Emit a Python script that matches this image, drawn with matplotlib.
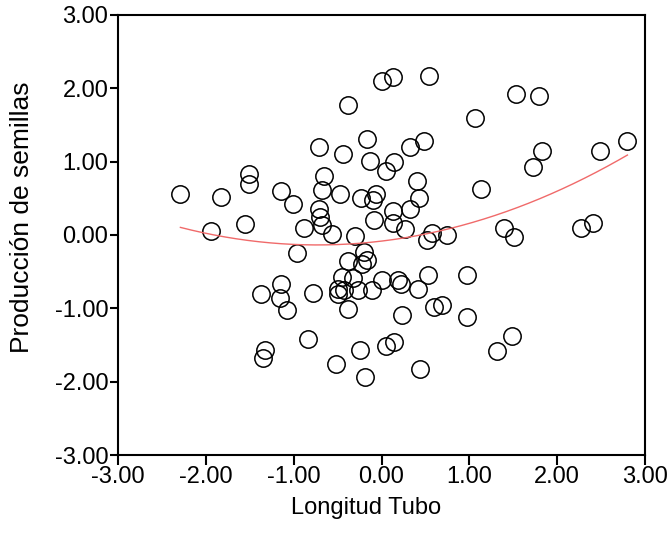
import matplotlib
matplotlib.use('Agg')
import matplotlib.pyplot as plt
import numpy as np
from matplotlib.ticker import FormatStrFormatter

plt.rcParams['font.family'] = ['Liberation Sans', 'DejaVu Sans']

# Longitud Tubo (x) y Producción de semillas (y)
longitud = [-2.29, -1.83, -1.51, -1.51, -1.56, -1.94, -1.15, -1.01, -0.88, -0.71,
            -0.44, -0.38, -0.17, -0.13, 0.05, 0.14, 0.01, 0.13, -0.65, -0.68,
            -0.47, -0.23, -0.06, -0.10, -0.71, -0.70, -0.68, -0.56, -0.30, -0.09,
            0.13, 0.13, 0.54, 1.53, 1.79, 1.06, 2.80, 2.49, 1.83, 1.73,
            1.13, 0.48, 0.32, 0.40, 0.43, 0.32, 0.27, 0.58, 0.52, 0.75,
            1.39, 1.51, 2.27, 2.41,
            -0.96, -0.38, -0.20, -0.16, -0.22, -1.15, -1.37, -1.16, -1.08, -0.78,
            -0.45, -0.33, -0.49, -0.50, -0.43, -0.27, -0.11, 0.01, 0.19, 0.22,
            -0.38, 0.23, -0.84, -1.33, -1.35, -0.52, -0.24, -0.19, 0.05, 0.14,
            0.41, 0.53, 0.97, 0.60, 0.69, 0.97, 0.44, 1.32, 1.49]
produccion = [0.56, 0.52, 0.83, 0.70, 0.15, 0.05, 0.60, 0.42, 0.09, 1.20,
              1.10, 1.77, 1.31, 1.01, 0.87, 1.00, 2.10, 2.16, 0.81, 0.61,
              0.56, 0.51, 0.56, 0.48, 0.36, 0.25, 0.14, 0.01, -0.01, 0.20,
              0.33, 0.16, 2.17, 1.92, 1.90, 1.59, 1.28, 1.15, 1.15, 0.92,
              0.63, 1.28, 1.20, 0.74, 0.51, 0.35, 0.08, 0.02, -0.07, 0.00,
              0.10, -0.03, 0.10, 0.16,
              -0.24, -0.36, -0.23, -0.34, -0.39, -0.67, -0.81, -0.86, -1.02, -0.79,
              -0.57, -0.59, -0.73, -0.80, -0.75, -0.75, -0.75, -0.61, -0.61, -0.67,
              -1.01, -1.09, -1.42, -1.57, -1.68, -1.76, -1.57, -1.93, -1.52, -1.46,
              -0.74, -0.54, -0.55, -0.98, -0.95, -1.12, -1.83, -1.58, -1.38]
ticks = [-3, -2, -1, 0, 1, 2, 3]

x = np.array(longitud)
y = np.array(produccion)

fig = plt.figure(figsize=(6.67, 5.42), dpi=100)
ax = fig.add_axes([0.177, 0.1605, 0.79, 0.812])

ax.plot(x, y, 'o', markersize=12.5, markerfacecolor='none',
        markeredgecolor='black', markeredgewidth=1.1)

# ajuste cuadrático
coef = np.polyfit(x, y, 2)
xf = np.linspace(x.min(), x.max(), 200)
ax.plot(xf, np.polyval(coef, xf), color='#f06a6a', linewidth=1.0)

ax.set_xlim(-3, 3)
ax.set_ylim(-3, 3)
ax.set_xticks(ticks)
ax.set_yticks(ticks)
ax.xaxis.set_major_formatter(FormatStrFormatter('%.2f'))
ax.yaxis.set_major_formatter(FormatStrFormatter('%.2f'))
ax.tick_params(direction='out', width=1.5, labelsize=17)
ax.tick_params(axis='y', length=6, pad=1)
ax.tick_params(axis='x', length=7, pad=1)
for s in ax.spines.values():
    s.set_linewidth(1.5)

ax.set_xlabel('Longitud Tubo', fontsize=17)
ax.set_ylabel('Producción de semillas', fontsize=19)
ax.xaxis.set_label_coords(0.47, -0.095)
ax.yaxis.set_label_coords(-0.16, 0.54)

fig.savefig('out.png', dpi=100)
